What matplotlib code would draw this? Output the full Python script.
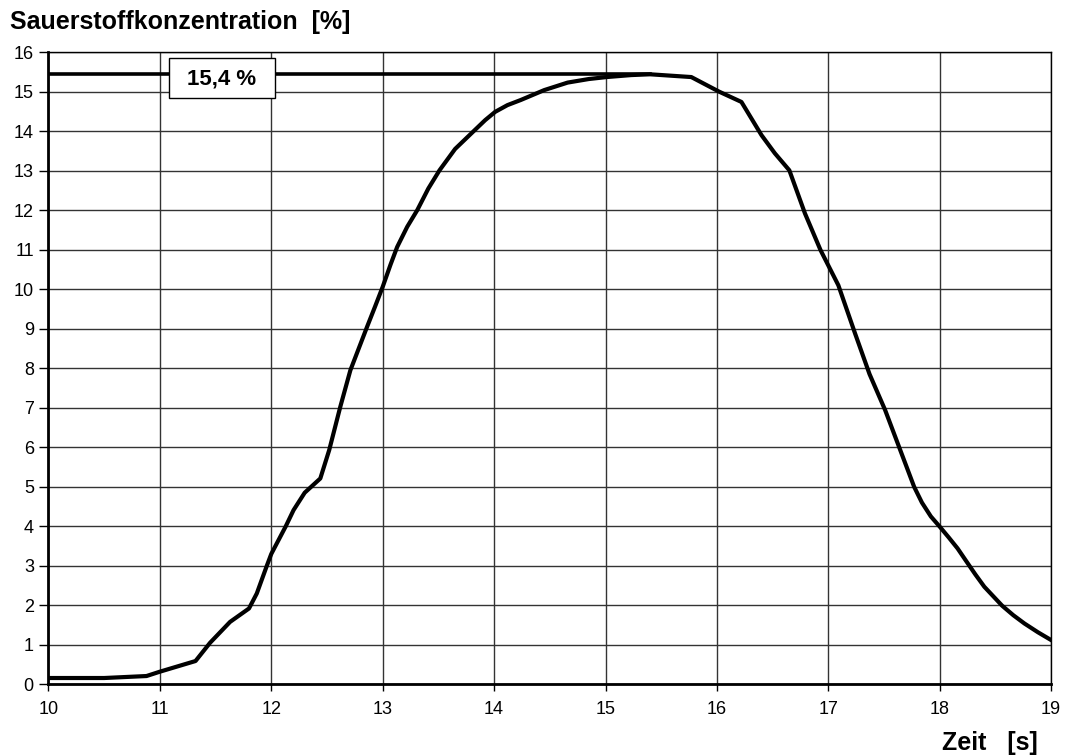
import matplotlib.pyplot as plt
from matplotlib.patches import Rectangle

plt.rcParams['font.family'] = ['Liberation Sans', 'DejaVu Sans']

# Zeit [s] and Sauerstoffkonzentration [%]
zeit = [10.0, 10.5, 10.88, 11.0, 11.32, 11.45, 11.63, 11.8, 11.87, 11.96, 12.0,
        12.13, 12.2, 12.3, 12.44, 12.52, 12.62, 12.71, 12.86, 12.93, 13.0, 13.07,
        13.13, 13.22, 13.31, 13.41, 13.51, 13.65, 13.82, 13.92, 14.01, 14.12,
        14.24, 14.45, 14.66, 14.85, 15.01, 15.23, 15.4, 15.77,
        16.02, 16.22, 16.4, 16.52, 16.65, 16.79, 16.93, 17.09, 17.24, 17.37,
        17.51, 17.64, 17.77, 17.84, 17.92, 18.0, 18.08, 18.16, 18.23, 18.32,
        18.4, 18.56, 18.66, 18.76, 18.88, 19.0]
sauerstoff = [0.16, 0.16, 0.21, 0.32, 0.59, 1.05, 1.58, 1.92, 2.3, 3.0, 3.3,
              4.0, 4.41, 4.85, 5.21, 5.93, 7.03, 7.95, 9.05, 9.55, 10.06, 10.62,
              11.07, 11.58, 12.0, 12.55, 13.01, 13.55, 14.01, 14.28, 14.49, 14.66,
              14.79, 15.04, 15.23, 15.32, 15.37, 15.42, 15.44, 15.37,
              15.0, 14.74, 13.9, 13.44, 13.01, 11.92, 10.99, 10.1, 8.88, 7.85,
              6.94, 5.97, 5.0, 4.6, 4.25, 3.99, 3.72, 3.44, 3.15, 2.78,
              2.47, 1.99, 1.75, 1.54, 1.32, 1.12]

max_wert = 15.44
max_label = '15,4 %'
x_ticks = list(range(10, 20))
y_ticks = list(range(0, 17))

fig = plt.figure(figsize=(10.65, 7.56), dpi=100)
ax = fig.add_axes([0.0455, 0.0948, 0.9415, 0.8362])

ax.plot(zeit, sauerstoff, color='black', linewidth=3.0, solid_joinstyle='round', zorder=3)
ax.plot([10, 15.4], [max_wert, max_wert], color='black', linewidth=2.6, zorder=3)

# label box for the maximum
ax.add_patch(Rectangle((11.08, 14.84), 0.95, 1.01, facecolor='white',
                       edgecolor='black', linewidth=1.0, zorder=4))
ax.text(11.555, 15.33, max_label, ha='center', va='center', fontsize=16,
        fontweight='bold', zorder=5)

ax.set_xlim(10, 19)
ax.set_ylim(0, 16)
ax.set_xticks(x_ticks)
ax.set_yticks(y_ticks)
ax.grid(True, color='#333333', linewidth=1.0)
ax.set_axisbelow(True)
ax.tick_params(axis='both', direction='out', labelsize=13, color='black', width=1.0)
ax.tick_params(axis='x', length=5, pad=7)
ax.tick_params(axis='y', length=6.5, pad=4)
for side in ['top', 'right']:
    ax.spines[side].set_linewidth(1.0)
for side in ['left', 'bottom']:
    ax.spines[side].set_linewidth(2.0)

fig.text(0.009, 0.962, 'Sauerstoffkonzentration  [%]', fontsize=18,
         fontweight='bold', va='baseline', ha='left')
fig.text(0.974, 0.008, 'Zeit   [s]', fontsize=18, fontweight='bold',
         va='baseline', ha='right')

fig.savefig('out.png', dpi=100)
